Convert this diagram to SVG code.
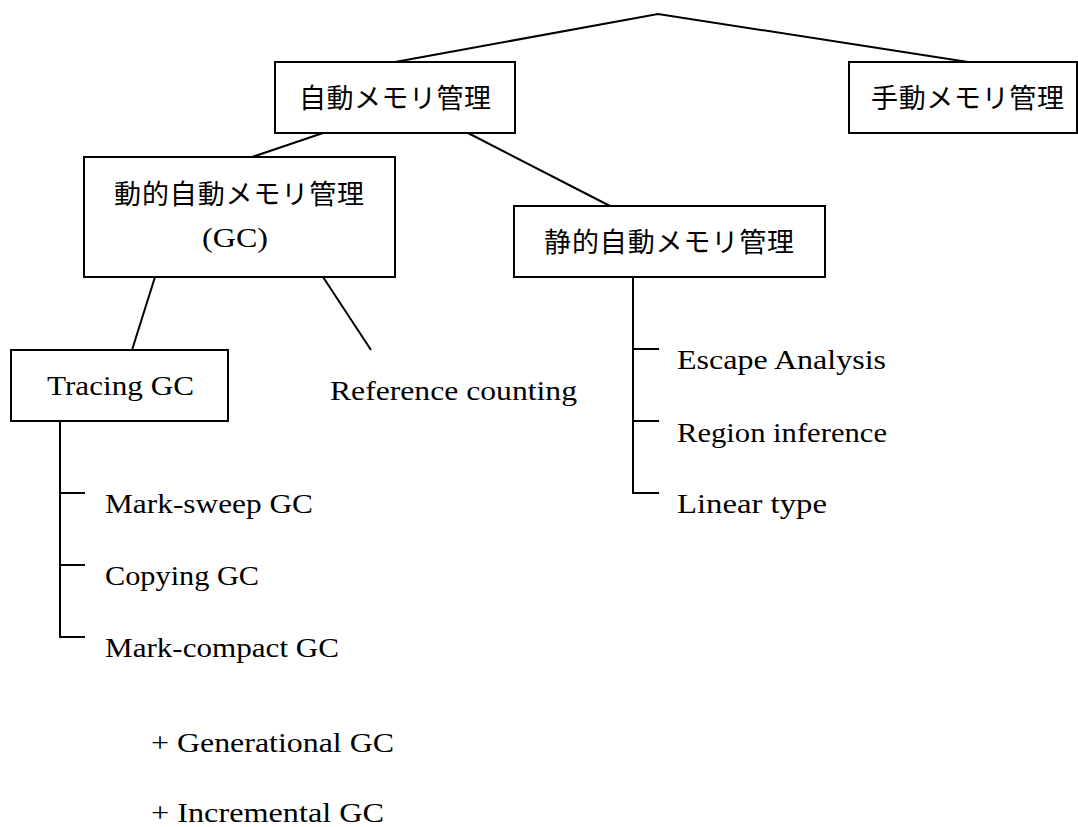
<svg xmlns="http://www.w3.org/2000/svg" width="1078" height="827" viewBox="0 0 1078 827">
<style>
.box{fill:#fff;stroke:#000;stroke-width:2}
.ln{fill:none;stroke:#000;stroke-width:2}
.jp{font-family:"Noto Sans CJK JP","Noto Sans",sans-serif;font-size:27px;fill:#000}
.en{font-family:"Liberation Serif","DejaVu Serif",serif;font-size:28px;fill:#000}
</style>
<rect width="1078" height="827" fill="#fff"/>
<g id="connectors">
<path class="ln" d="M395,62 L658,14 L968,62"/>
<path class="ln" d="M323,133 L252,157"/>
<path class="ln" d="M468,133 L610,206"/>
<path class="ln" d="M155,277 L132,350"/>
<path class="ln" d="M323,277 L371,350"/>
<path class="ln" d="M60,421 V637 H85 M60,493 H85 M60,565 H85"/>
<path class="ln" d="M633,277 V493 H659 M633,349 H659 M633,421 H659"/>
</g>
<g id="auto">
<rect class="box" x="275" y="62" width="240" height="71"/>
<text class="jp" x="299" y="107.5" textLength="192" lengthAdjust="spacing">自動メモリ管理</text>
</g>
<g id="manual">
<rect class="box" x="849" y="62" width="228" height="71"/>
<text class="jp" x="871" y="107.5" textLength="193" lengthAdjust="spacing">手動メモリ管理</text>
</g>
<g id="dynamic">
<rect class="box" x="84" y="157" width="311" height="120"/>
<text class="jp" x="114" y="203.5" textLength="250" lengthAdjust="spacing">動的自動メモリ管理</text>
<text class="en" x="202" y="247" textLength="66" lengthAdjust="spacingAndGlyphs">(GC)</text>
</g>
<g id="static">
<rect class="box" x="514" y="206" width="311" height="71"/>
<text class="jp" x="544" y="251.5" textLength="250" lengthAdjust="spacing">静的自動メモリ管理</text>
</g>
<g id="tracing">
<rect class="box" x="11" y="350" width="217" height="71"/>
<text class="en" x="47" y="395" textLength="147" lengthAdjust="spacingAndGlyphs">Tracing GC</text>
</g>
<g id="refcount">
<text class="en" x="330" y="400" textLength="247" lengthAdjust="spacingAndGlyphs">Reference counting</text>
</g>
<g id="marksweep">
<text class="en" x="105" y="513" textLength="208" lengthAdjust="spacingAndGlyphs">Mark-sweep GC</text>
</g>
<g id="copying">
<text class="en" x="105" y="585" textLength="154" lengthAdjust="spacingAndGlyphs">Copying GC</text>
</g>
<g id="markcompact">
<text class="en" x="105" y="657" textLength="234" lengthAdjust="spacingAndGlyphs">Mark-compact GC</text>
</g>
<g id="escape">
<text class="en" x="677" y="369" textLength="209" lengthAdjust="spacingAndGlyphs">Escape Analysis</text>
</g>
<g id="region">
<text class="en" x="677" y="442" textLength="210" lengthAdjust="spacingAndGlyphs">Region inference</text>
</g>
<g id="linear">
<text class="en" x="677" y="513" textLength="150" lengthAdjust="spacingAndGlyphs">Linear type</text>
</g>
<g id="generational">
<text class="en" x="151" y="752" textLength="243" lengthAdjust="spacingAndGlyphs">+ Generational GC</text>
</g>
<g id="incremental">
<text class="en" x="151" y="822" textLength="233" lengthAdjust="spacingAndGlyphs">+ Incremental GC</text>
</g>
</svg>
